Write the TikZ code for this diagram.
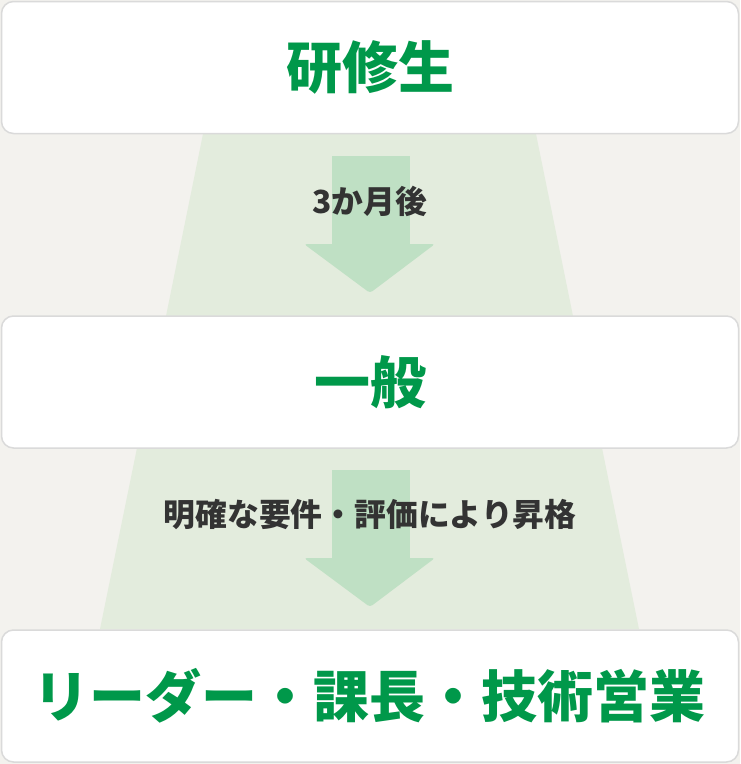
\documentclass[tikz,border=0pt]{standalone}
\usepackage{fontspec}
\newfontfamily\cjk{Noto Sans CJK JP}
\definecolor{bgc}{HTML}{F3F2EE}
\definecolor{trap}{HTML}{E3ECDD}
\definecolor{arr}{HTML}{BFE0C4}
\definecolor{edge}{HTML}{DADADA}
\definecolor{grn}{HTML}{00984A}
\definecolor{dark}{HTML}{333333}
\tikzset{
  stage/.style={draw=edge, line width=1.5pt, fill=white, rounded corners=12pt,
    minimum width=737pt, minimum height=132pt, inner sep=0pt,
    font=\cjk\bfseries\fontsize{56}{60}\selectfont, text=grn},
  steplabel/.style={inner sep=0pt, font=\cjk\bfseries\fontsize{31.8}{36}\selectfont, text=dark},
  trapfill/.style={fill=trap, draw=none},
  arrfill/.style={fill=arr, draw=none}
}
\begin{document}
\begin{tikzpicture}[x=1pt,y=-1pt]
\fill[bgc] (0,0) rectangle (740,764);
\useasboundingbox (0,0) rectangle (740,764);
% funnels
\path[trapfill] (203,134) -- (536,134) -- (573,316) -- (166,316) -- cycle;
\path[trapfill] (137,448) -- (602,448) -- (639,629) -- (100,629) -- cycle;
% arrows
\path[arrfill] (332,156) rectangle (410,246);
\path[arrfill, rounded corners=3pt] (304,244) -- (435,244) -- (370,293) -- cycle;
\path[arrfill] (332,470) rectangle (410,560);
\path[arrfill, rounded corners=3pt] (304,558) -- (435,558) -- (370,607) -- cycle;
% stages
\node[stage] (s1) at (370,67.5) {研修生};
\node[stage] (s2) at (370,382) {一般};
\node[stage] (s3) at (370,696) {リーダー・課長・技術営業};
% labels
\node[steplabel] (l1) at (370,201) {3か月後};
\node[steplabel] (l2) at (370,515) {明確な要件・評価により昇格};
\end{tikzpicture}
\end{document}
